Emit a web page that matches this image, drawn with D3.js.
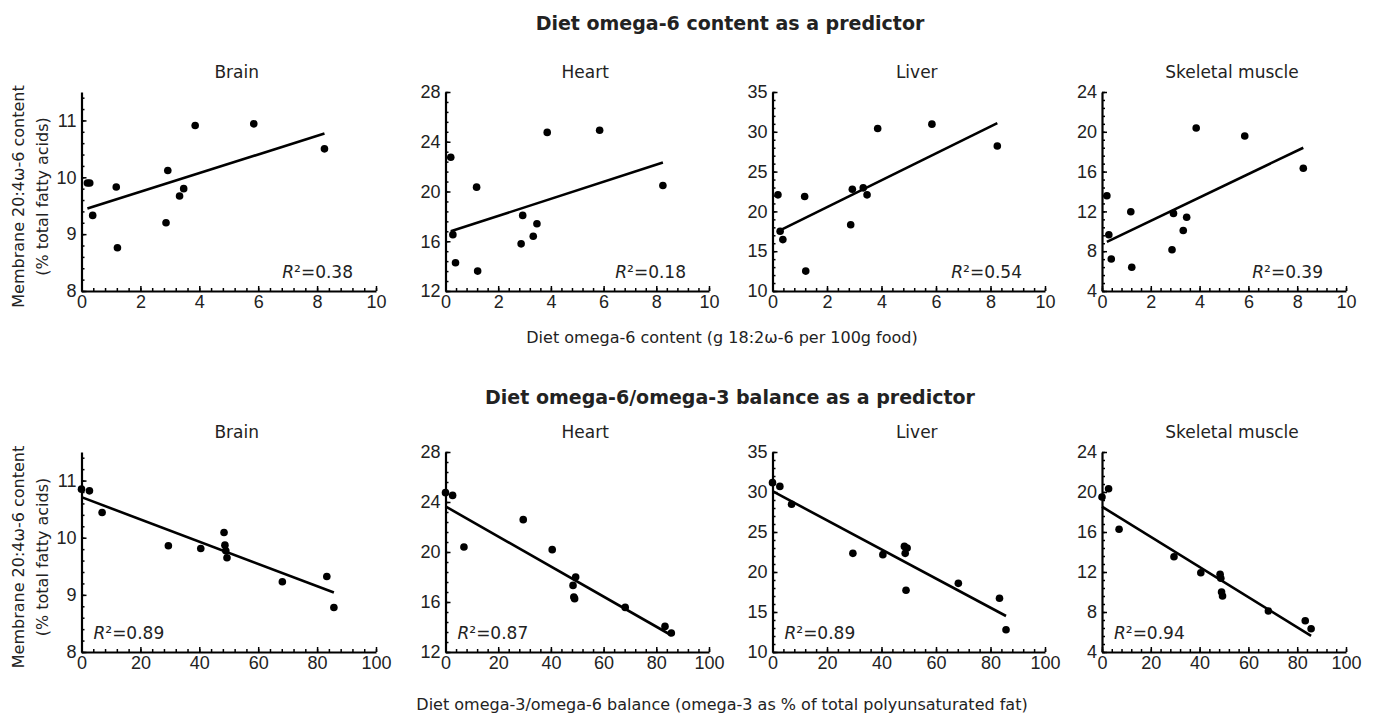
<!DOCTYPE html>
<html>
<head>
<meta charset="utf-8">
<script src="https://cdn.jsdelivr.net/npm/d3@7"></script>
<style>
  body { margin: 0; background: #fff; }
  svg { font-family: "DejaVu Sans", sans-serif; fill: #222; }
  .axis path, .axis line { stroke: #000; }
  .axis text { font-size: 18px; fill: #222; }
</style>
</head>
<body>
<div id="chart"></div>
<script>
// Tissues (columns)
const tissues = ['Brain', 'Heart', 'Liver', 'Skeletal muscle'];

// Diet x values (same 12 diets in every panel of a row)
const omega6Content = [0.2, 0.28, 0.38, 1.18, 1.22, 2.87, 2.93, 3.33, 3.47, 3.86, 5.85, 8.25];
const omega3Balance = [0, 2.7, 7, 29.5, 40.5, 48.4, 48.7, 49.0, 49.4, 68.2, 83.3, 85.7];

// Membrane 20:4w-6 vs diet omega-6 content
const brainByContent  = [9.9, 9.9, 9.33, 9.83, 8.76, 9.2, 10.12, 9.67, 9.8, 10.91, 10.94, 10.5];
const heartByContent  = [22.75, 16.53, 14.27, 20.35, 13.6, 15.79, 18.08, 16.4, 17.41, 24.75, 24.93, 20.48];
const liverByContent  = [22.08, 17.5, 16.46, 21.88, 12.5, 18.33, 22.79, 22.96, 22.08, 30.42, 30.96, 28.21];
const muscleByContent = [13.57, 9.65, 7.22, 11.97, 6.39, 8.15, 11.8, 10.08, 11.41, 20.38, 19.58, 16.33];

// Membrane 20:4w-6 vs diet omega-3/omega-6 balance
const brainByBalance  = [10.85, 10.82, 10.44, 9.86, 9.81, 10.09, 9.87, 9.77, 9.65, 9.23, 9.32, 8.78];
const heartByBalance  = [24.75, 24.53, 20.4, 22.59, 20.19, 17.33, 16.4, 16.27, 18.0, 15.57, 14.05, 13.52];
const liverByBalance  = [31.17, 30.7, 28.46, 22.33, 22.17, 23.2, 22.33, 17.71, 23.0, 18.58, 16.71, 12.79];
const muscleByBalance = [19.5, 20.33, 16.27, 13.53, 11.93, 11.77, 11.37, 10.0, 9.6, 8.1, 7.13, 6.33];

// Regression lines: fitted value at lowest and highest diet x
const contentFitStart = [9.45, 16.8, 17.5, 8.94];
const contentFitEnd   = [10.77, 22.33, 31.1, 18.4];
const balanceFitStart = [10.71, 23.65, 30.1, 18.53];
const balanceFitEnd   = [9.04, 13.34, 14.5, 5.62];

// R squared labels
const contentR2 = ['0.38', '0.18', '0.54', '0.39'];
const balanceR2 = ['0.89', '0.87', '0.89', '0.94'];

// Axis ranges and ticks
const yDomains = [[8, 11.5], [12, 28], [10, 35], [4, 24]];
const yMajorStep = [1, 4, 5, 4];
const yMinorStep = [0.2, 0.8, 1, 0.8];
const contentTicks = [0, 2, 4, 6, 8, 10];
const balanceTicks = [0, 20, 40, 60, 80, 100];

// Layout
const W = 1384, H = 721;
const colX = [[81.5, 376], [445.5, 709], [772.5, 1045], [1102, 1346]];
const rows = [
    { top: 92, bottom: 291, xs: omega6Content, xDomain: [0, 10], ticks: contentTicks, minor: 0.4,
      ys: [brainByContent, heartByContent, liverByContent, muscleByContent],
      fitA: contentFitStart, fitB: contentFitEnd, r2: contentR2, r2Right: true,
      title: 'Diet omega-6 content as a predictor', titleY: 30,
      xLabel: 'Diet omega-6 content (g 18:2\u03c9-6 per 100g food)', xLabelY: 343 },
    { top: 452, bottom: 652, xs: omega3Balance, xDomain: [0, 100], ticks: balanceTicks, minor: 4,
      ys: [brainByBalance, heartByBalance, liverByBalance, muscleByBalance],
      fitA: balanceFitStart, fitB: balanceFitEnd, r2: balanceR2, r2Right: false,
      title: 'Diet omega-6/omega-3 balance as a predictor', titleY: 404,
      xLabel: 'Diet omega-3/omega-6 balance (omega-3 as % of total polyunsaturated fat)', xLabelY: 710 }
];

// values a, a+step, ... not past b
function range(a, b, step) {
    const out = [];
    const n = Math.floor((b - a) / step + 1e-6);
    for (let i = 0; i <= n; i++) out.push(+(a + i * step).toFixed(4));
    return out;
}

const svg = d3.select('#chart').append('svg')
    .attr('width', W)
    .attr('height', H);

rows.forEach(row => {
    svg.append('text')
        .attr('x', 730)
        .attr('y', row.titleY)
        .attr('text-anchor', 'middle')
        .style('font-size', '19px')
        .style('font-weight', 'bold')
        .text(row.title);

    svg.append('text')
        .attr('x', 722)
        .attr('y', row.xLabelY)
        .attr('text-anchor', 'middle')
        .style('font-size', '16px')
        .text(row.xLabel);

    // y axis title, two lines
    const cy = (row.top + row.bottom) / 2 + 5;
    [['Membrane 20:4\u03c9-6 content', 24], ['(% total fatty acids)', 48]].forEach(([t, lx]) => {
        svg.append('text')
            .attr('transform', `translate(${lx},${cy}) rotate(-90)`)
            .attr('text-anchor', 'middle')
            .style('font-size', '16px')
            .text(t);
    });

    tissues.forEach((name, i) => {
        const [x0, x1] = colX[i];
        const x = d3.scaleLinear().domain(row.xDomain).range([x0, x1]);
        const y = d3.scaleLinear().domain(yDomains[i]).range([row.bottom, row.top]);
        const g = svg.append('g');

        // minor ticks
        g.append('g')
            .attr('class', 'axis')
            .attr('transform', `translate(0,${row.bottom})`)
            .call(d3.axisBottom(x).tickValues(range(row.xDomain[0], row.xDomain[1], row.minor))
                .tickSize(-3).tickSizeOuter(0).tickFormat(''))
            .call(s => s.selectAll('line').attr('stroke-width', 1.5))
            .call(s => s.select('.domain').remove());
        g.append('g')
            .attr('class', 'axis')
            .attr('transform', `translate(${x0},0)`)
            .call(d3.axisLeft(y).tickValues(range(yDomains[i][0], yDomains[i][1], yMinorStep[i]))
                .tickSize(-3).tickSizeOuter(0).tickFormat(''))
            .call(s => s.selectAll('line').attr('stroke-width', 1.5))
            .call(s => s.select('.domain').remove());

        // major ticks and labels
        g.append('g')
            .attr('class', 'axis')
            .attr('transform', `translate(0,${row.bottom})`)
            .call(d3.axisBottom(x).tickValues(row.ticks).tickSize(-5).tickSizeOuter(0)
                .tickPadding(4).tickFormat(d3.format('~g')))
            .call(s => s.selectAll('line').attr('stroke-width', 1.5))
            .call(s => s.select('.domain').attr('stroke-width', 2.2));
        g.append('g')
            .attr('class', 'axis')
            .attr('transform', `translate(${x0},0)`)
            .call(d3.axisLeft(y).tickValues(range(yDomains[i][0], yDomains[i][1], yMajorStep[i]))
                .tickSize(-5).tickSizeOuter(0).tickPadding(5).tickFormat(d3.format('~g')))
            .call(s => s.selectAll('line').attr('stroke-width', 1.5))
            .call(s => s.select('.domain').attr('stroke-width', 2.2));

        // panel title
        g.append('text')
            .attr('x', (x0 + x1) / 2 + 8)
            .attr('y', row.top - 14)
            .attr('text-anchor', 'middle')
            .style('font-size', '17px')
            .text(name);

        // regression line
        const xMin = d3.min(row.xs), xMax = d3.max(row.xs);
        g.append('line')
            .attr('x1', x(xMin)).attr('y1', y(row.fitA[i]))
            .attr('x2', x(xMax)).attr('y2', y(row.fitB[i]))
            .attr('stroke', '#000')
            .attr('stroke-width', 2.6);

        // points
        g.selectAll('circle')
            .data(row.xs.map((v, k) => [v, row.ys[i][k]]))
            .enter()
            .append('circle')
            .attr('cx', d => x(d[0]))
            .attr('cy', d => y(d[1]))
            .attr('r', 3.8)
            .attr('fill', '#000');

        // R squared
        const r2 = g.append('text')
            .attr('x', row.r2Right ? x1 - 23 : x0 + 12)
            .attr('y', row.bottom - 13)
            .attr('text-anchor', row.r2Right ? 'end' : 'start')
            .style('font-size', '17px');
        r2.append('tspan').style('font-style', 'italic').text('R');
        r2.append('tspan').text('\u00b2=' + row.r2[i]);
    });
});
</script>
</body>
</html>
